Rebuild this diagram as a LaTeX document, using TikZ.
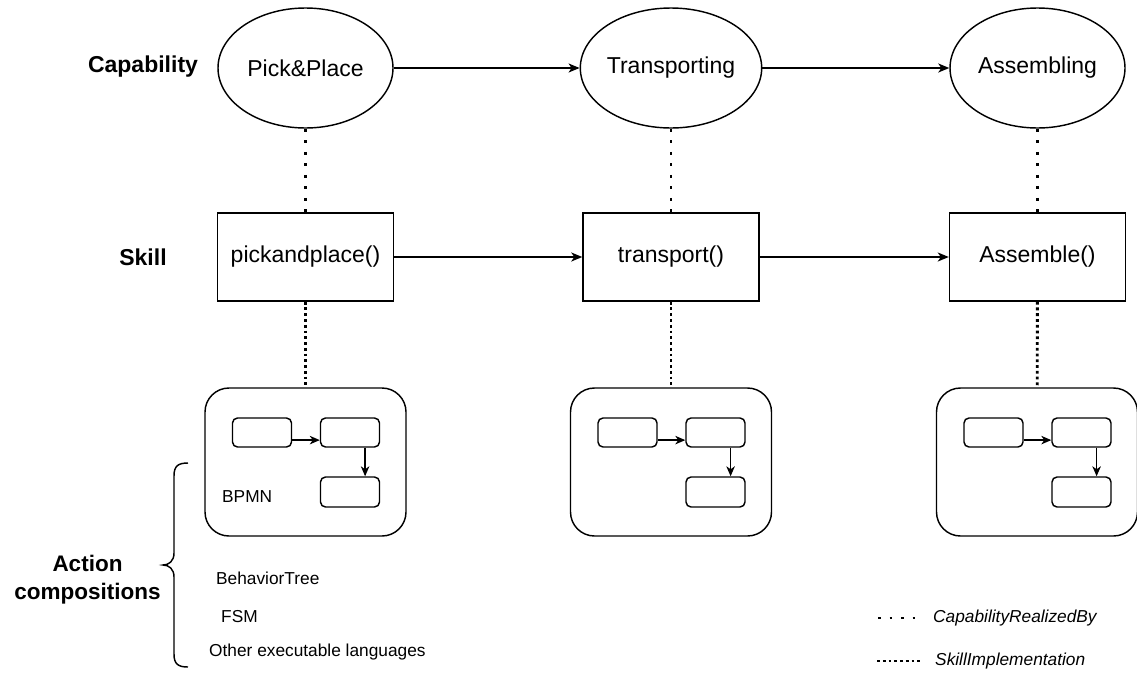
\documentclass[tikz,border=0pt]{standalone}
\usepackage{fontspec}
\setmainfont{Liberation Sans}
\usetikzlibrary{arrows.meta,shapes.geometric,calc}

\tikzset{
  big/.style={font=\fontsize{23}{27.6}\selectfont},
  small/.style={font=\fontsize{17.3}{20.8}\selectfont},
  capnode/.style={draw, ellipse, big, line width=1.44pt, inner sep=0pt,
    minimum width=175pt, minimum height=120pt},
  skillnode/.style={draw, rectangle, big, line width=1.44pt, inner sep=0pt,
    minimum width=176pt, minimum height=88pt},
  compbox/.style={draw, rectangle, rounded corners=24pt, line width=1.44pt,
    minimum width=201pt, minimum height=148pt, inner sep=0pt},
  stepbox/.style={draw, rectangle, rounded corners=5pt, line width=1.44pt,
    minimum width=59pt, minimum height=29pt, inner sep=0pt},
  flow/.style={line width=1.44pt, -{Stealth[length=11pt,width=9pt,inset=3pt]}},
  miniflow/.style={line width=1.44pt, -{Stealth[length=10pt,width=8.5pt,inset=3pt]}},
  realized/.style={line width=2.88pt, dash pattern=on 2.88pt off 8.64pt},
  implemented/.style={line width=2.88pt, dash pattern=on 2.88pt off 2.88pt},
  rowlabel/.style={big, font=\fontsize{23}{27.6}\selectfont\bfseries, inner sep=0pt},
  txt/.style={small, inner sep=0pt, anchor=west},
  legendtxt/.style={small, font=\fontsize{17.3}{20.8}\selectfont\itshape, inner sep=0pt, anchor=west},
}

\begin{document}
\begin{tikzpicture}[x=1pt,y=-1pt]
\useasboundingbox (0,0) rectangle (1137,675);

% row labels
\node[rowlabel] (lcap) at (143,67) {Capability};
\node[rowlabel] (lskill) at (143,257) {Skill};
\node[rowlabel, align=center, font=\fontsize{22.5}{28}\selectfont\bfseries] (lact) at (87.5,580) {Action\\compositions};

% capabilities
\node[capnode] (c1) at (305.5,68) {Pick\&Place};
\node[capnode] (c2) at (671,68) {Transporting};
\node[capnode] (c3) at (1037.5,68) {Assembling};

% skills
\node[skillnode] (s1) at (305.5,257) {pickandplace()};
\node[skillnode] (s2) at (671,257) {transport()};
\node[skillnode] (s3) at (1037.5,257) {Assemble()};

% sequence arrows
\draw[flow] (c1) -- (c2);
\draw[flow] (c2) -- (c3);
\draw[flow] (s1) -- (s2);
\draw[flow] (s2) -- (s3);

% action composition boxes with a small flow inside
\foreach \i/\cx in {1/305.5, 2/671, 3/1037} {
  \node[compbox] (a\i) at (\cx,462) {};
  \node[stepbox] (a\i x) at (\cx-43.5,432.5) {};
  \node[stepbox] (a\i y) at (\cx+44.5,432.5) {};
  \node[stepbox, minimum height=30pt] (a\i z) at (\cx+44.5,492) {};
  \draw[miniflow] ($(a\i x.north east)!0.75!(a\i x.south east)$)
    -- ($(a\i y.north west)!0.75!(a\i y.south west)$);
  \draw[miniflow] ($(a\i y.south west)!0.75!(a\i y.south east)$)
    -- ($(a\i z.north west)!0.75!(a\i z.north east)$);
  \draw[realized] (c\i) -- (s\i);
  \draw[implemented] (s\i) -- (a\i);
}

\node[txt] (bpmn) at (222,497) {BPMN};
\node[txt] (bt) at (216,578) {BehaviorTree};
\node[txt] (fsm) at (221,617) {FSM};
\node[txt] (other) at (209,652) {Other executable languages};

% curly brace grouping the languages
\coordinate (btop) at (188,463);
\coordinate (bbot) at (188,667);
\draw[line width=1.44pt] (btop) .. controls (178,463) and (174,466) .. (174,476)
  -- (174,553) .. controls (174,561) and (169,565) .. (163,565)
  .. controls (169,565) and (174,569) .. (174,577)
  -- (174,654) .. controls (174,664) and (178,667) .. (bbot);

% legend
\coordinate (l1a) at (878,618);
\coordinate (l1b) at (918,618);
\coordinate (l2a) at (877,661);
\coordinate (l2b) at (921,661);
\draw[realized] (l1a) -- (l1b);
\draw[implemented] (l2a) -- (l2b);
\node[legendtxt] (leg1) at (933,618) {CapabilityRealizedBy};
\node[legendtxt] (leg2) at (935,661) {SkillImplementation};
\end{tikzpicture}
\end{document}
